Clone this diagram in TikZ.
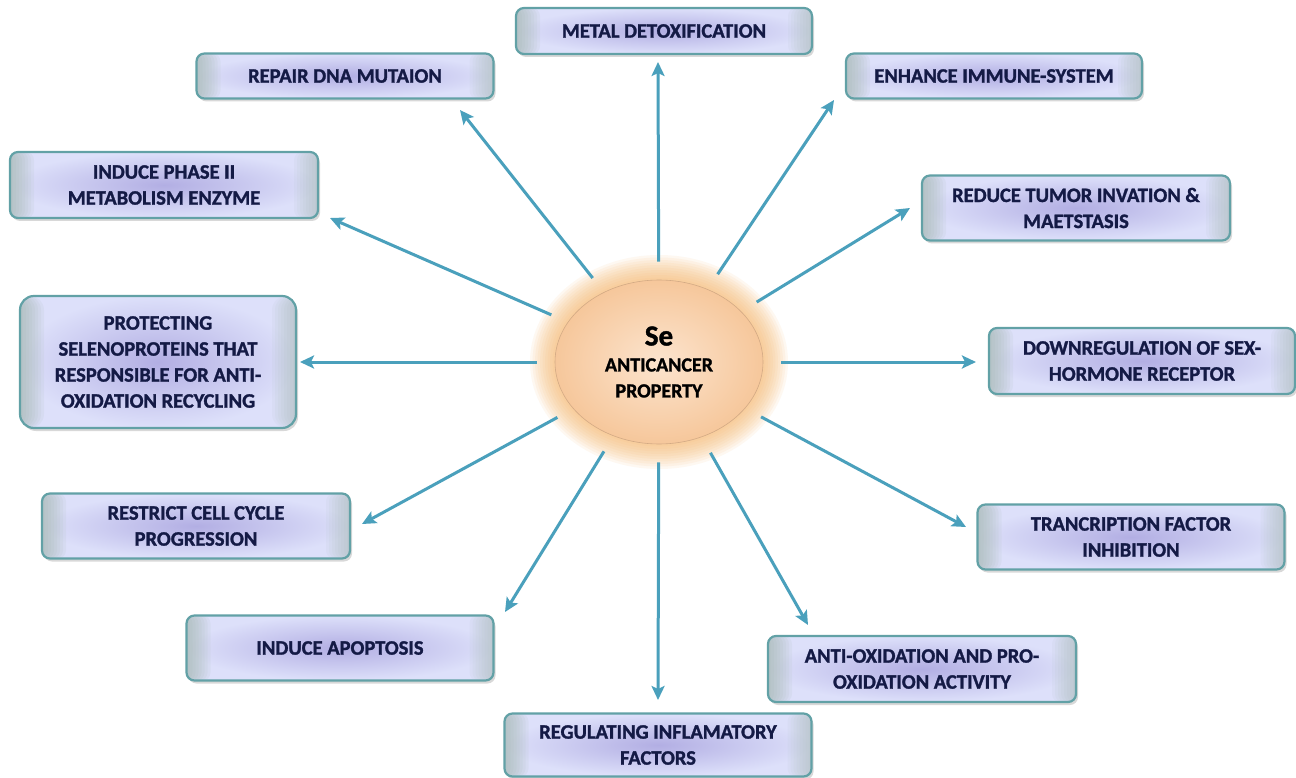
\documentclass[tikz,border=0pt]{standalone}
\usepackage{fontspec}
\setmainfont{Carlito}
\newfontfamily\heavy{Carlito}[UprightFeatures={FakeBold=1.4}, BoldFeatures={FakeBold=1.4}]
\usetikzlibrary{arrows.meta,shadows,calc,shapes.geometric}
\definecolor{boxfill}{HTML}{DDE0FA}
\definecolor{boxmid}{HTML}{B2AEE3}
\definecolor{boxedge}{HTML}{9DB3A6}
\definecolor{boxline}{HTML}{62A1A6}
\definecolor{txt}{HTML}{141A45}
\definecolor{arrc}{HTML}{4AA0BC}
\definecolor{peach}{HTML}{F6C79B}
\definecolor{peachin}{HTML}{FCE4CE}
\definecolor{glowc}{HTML}{F8B466}
\definecolor{ellline}{HTML}{D3AA84}
\begin{document}
\begin{tikzpicture}[x=1pt,y=-1pt,
 card/.style={draw=boxline, line width=2.2pt, rounded corners=8pt,
   inner color=boxmid, outer color=boxfill,
   drop shadow={shadow xshift=2pt, shadow yshift=-3pt, opacity=0.3},
   text=txt, font=\heavy\bfseries\fontsize{20.5}{26}\selectfont, align=center,
   path picture={
     \foreach \k in {1,...,8} {
       \fill[boxedge, opacity=0.1] (path picture bounding box.north west) rectangle ([xshift={3pt*\k}]path picture bounding box.south west);
       \fill[boxedge, opacity=0.07] (path picture bounding box.north east) rectangle ([xshift={-3pt*\k}]path picture bounding box.south east);
     }
   }},
 arr/.style={draw=arrc, line width=3pt, -{Stealth[length=14pt,width=13pt,inset=3pt]}, shorten <=18pt}]
\useasboundingbox (0,0) rectangle (1296,778);
\fill[white] (0,0) rectangle (1296,778);

% centre glow
\coordinate (c) at (659,362);
\foreach \i in {1,...,10} {
  \fill[glowc, opacity=0.09] (c) ellipse ({104+2.5*\i} and {82+2.5*\i});
}
\node[ellipse, draw=ellline, line width=0.6pt, inner color=peachin, outer color=peach,
  minimum width=208pt, minimum height=164pt, align=center, text=black,
  font=\heavy\bfseries\fontsize{20}{26}\selectfont] (se) at (c)
  {{\fontsize{29}{31}\selectfont Se}\\ANTICANCER\\PROPERTY};

% boxes
\node[card, minimum width=296pt, minimum height=46pt] (metal) at (664,31) {METAL DETOXIFICATION};
\node[card, minimum width=297pt, minimum height=45pt] (repair) at (345,76) {REPAIR DNA MUTAION};
\node[card, minimum width=296pt, minimum height=45pt] (enhance) at (994,76) {ENHANCE IMMUNE-SYSTEM};
\node[card, minimum width=308pt, minimum height=66pt] (phase) at (164,185) {INDUCE PHASE II\\METABOLISM ENZYME};
\node[card, minimum width=308pt, minimum height=65pt] (reduce) at (1076,208) {REDUCE TUMOR INVATION \&\\MAETSTASIS};
\node[card, minimum width=276pt, minimum height=132pt, rounded corners=14pt] (protect) at (158,362) {PROTECTING\\SELENOPROTEINS THAT\\RESPONSIBLE FOR ANTI-\\OXIDATION RECYCLING};
\node[card, minimum width=306pt, minimum height=66pt] (down) at (1142,361) {DOWNREGULATION OF SEX-\\HORMONE RECEPTOR};
\node[card, minimum width=308pt, minimum height=65pt] (restrict) at (196,526) {RESTRICT CELL CYCLE\\PROGRESSION};
\node[card, minimum width=307pt, minimum height=65pt] (tranc) at (1131,537) {TRANCRIPTION FACTOR\\INHIBITION};
\node[card, minimum width=307pt, minimum height=65pt] (apop) at (340,648) {INDUCE APOPTOSIS};
\node[card, minimum width=308pt, minimum height=66pt] (antiox) at (922,669) {ANTI-OXIDATION AND PRO-\\OXIDATION ACTIVITY};
\node[card, minimum width=307pt, minimum height=63pt] (regul) at (658,745) {REGULATING INFLAMATORY\\FACTORS};

% arrow tips
\coordinate (t1) at (658,62);
\coordinate (t2) at (460,110);
\coordinate (t3) at (834,100);
\coordinate (t4) at (330,218);
\coordinate (t5) at (910,208);
\coordinate (t6) at (300,362);
\coordinate (t7) at (976,362);
\coordinate (t8) at (362,524);
\coordinate (t9) at (966,527);
\coordinate (t10) at (505,612);
\coordinate (t11) at (808,625);
\coordinate (t12) at (658,700);
\foreach \t in {t1,t2,t3,t4,t5,t6,t7,t8,t9,t10,t11,t12} {
  \draw[arr] (se) -- (\t);
}
\end{tikzpicture}
\end{document}
